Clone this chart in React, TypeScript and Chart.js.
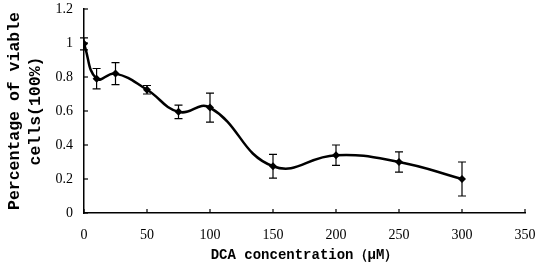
import React, { useEffect, useRef } from "react";
import { Chart, registerables } from "chart.js";
Chart.register(...registerables);

const concentrations = [0, 10, 25, 50, 75, 100, 150, 200, 250, 300];
const viability = [0.995, 0.79, 0.82, 0.725, 0.595, 0.62, 0.275, 0.34, 0.3, 0.2];
const errors = [0.035, 0.06, 0.065, 0.025, 0.04, 0.085, 0.07, 0.06, 0.06, 0.1];
const xTickValues = [0, 50, 100, 150, 200, 250, 300, 350];
const yTickValues = [0, 0.2, 0.4, 0.6, 0.8, 1, 1.2];
const xTitle = "DCA concentration（μM）";
const yTitle = ["Percentage of viable", "cells(100%)"];

const errorBarPlugin = {
  id: "errorBars",
  afterDatasetsDraw(chart: any) {
    const ctx = chart.ctx;
    const xs = chart.scales.x;
    const ys = chart.scales.y;
    ctx.save();
    ctx.strokeStyle = "#000";
    ctx.lineWidth = 1.2;
    concentrations.forEach((c, i) => {
      const x = xs.getPixelForValue(c);
      const yt = ys.getPixelForValue(viability[i] + errors[i]);
      const yb = ys.getPixelForValue(viability[i] - errors[i]);
      ctx.beginPath();
      ctx.moveTo(x, yt);
      ctx.lineTo(x, yb);
      ctx.moveTo(x - 4, yt);
      ctx.lineTo(x + 4, yt);
      ctx.moveTo(x - 4, yb);
      ctx.lineTo(x + 4, yb);
      ctx.stroke();
    });
    const area = chart.chartArea;
    xTickValues.forEach((v) => {
      const x = xs.getPixelForValue(v);
      ctx.beginPath();
      ctx.moveTo(x, area.bottom);
      ctx.lineTo(x, area.bottom - 4);
      ctx.stroke();
    });
    yTickValues.forEach((v) => {
      const y = ys.getPixelForValue(v);
      ctx.beginPath();
      ctx.moveTo(area.left, y);
      ctx.lineTo(area.left + 4, y);
      ctx.stroke();
    });
    ctx.restore();
  },
};

export default function App() {
  const ref = useRef<HTMLCanvasElement>(null);
  useEffect(() => {
    document.body.style.margin = "0";
    const chart = new Chart(ref.current!, {
      type: "line",
      data: {
        datasets: [
          {
            data: concentrations.map((c, i) => ({ x: c, y: viability[i] })),
            borderColor: "#000",
            backgroundColor: "#000",
            borderWidth: 2.5,
            tension: 0.45,
            pointStyle: "rectRot",
            pointRadius: 4,
            pointBorderWidth: 0,
            fill: false,
          },
        ],
      },
      options: {
        animation: false,
        responsive: false,
        layout: { padding: { top: 9, right: 13, left: 0, bottom: 0 } },
        plugins: { legend: { display: false }, tooltip: { enabled: false } },
        scales: {
          x: {
            type: "linear",
            min: 0,
            max: 350,
            afterBuildTicks: (s: any) => {
              s.ticks = xTickValues.map((v) => ({ value: v }));
            },
            grid: { display: false, drawTicks: false },
            border: { display: true, color: "#000", width: 1.5 },
            ticks: {
              color: "#000",
              padding: 14,
              font: { family: "Liberation Serif", size: 14 },
              maxRotation: 0,
            },
            title: {
              display: true,
              text: xTitle,
              color: "#000",
              font: { family: "Liberation Mono", size: 14, weight: "bold" },
              padding: { top: 3, bottom: 4 },
            },
            afterFit: (s: any) => {
              s.height = 55;
              s.paddingRight = 0;
              s.paddingLeft = 0;
            },
          },
          y: {
            type: "linear",
            min: 0,
            max: 1.2,
            afterBuildTicks: (s: any) => {
              s.ticks = yTickValues.map((v) => ({ value: v }));
            },
            grid: { display: false, drawTicks: false },
            border: { display: true, color: "#000", width: 1.5 },
            ticks: {
              color: "#000",
              padding: 11,
              font: { family: "Liberation Serif", size: 14 },
              callback: (v: any) => String(Math.round(Number(v) * 10) / 10),
            },
            title: {
              display: true,
              text: yTitle,
              color: "#000",
              font: { family: "Liberation Mono", size: 16.5, weight: "bold", lineHeight: 1.25 },
              padding: { top: 5, bottom: 4 },
            },
            afterFit: (s: any) => {
              s.width = 84;
              s.paddingTop = 0;
              s.paddingBottom = 0;
            },
          },
        },
      },
      plugins: [errorBarPlugin],
    });
    return () => chart.destroy();
  }, []);
  return <canvas ref={ref} width={538} height={268} style={{ display: "block" }} />;
}
